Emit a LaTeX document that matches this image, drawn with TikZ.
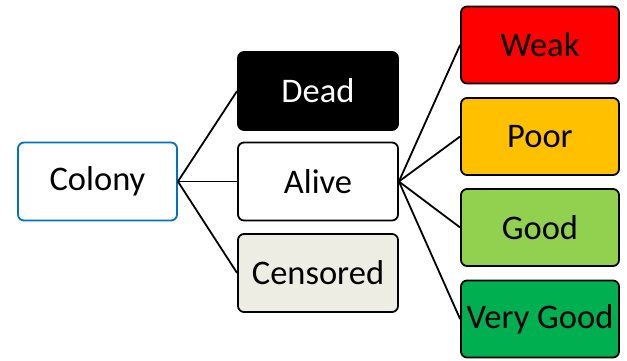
\documentclass[tikz,border=0pt]{standalone}
\usepackage{fontspec}
\setmainfont{Carlito}
\definecolor{colonyblue}{HTML}{0070C0}
\definecolor{censorgrey}{HTML}{EEEDE3}
\definecolor{weakred}{HTML}{FF0000}
\definecolor{poororange}{HTML}{FFC000}
\definecolor{goodgreen}{HTML}{92D050}
\definecolor{vgoodgreen}{HTML}{00B050}
\begin{document}
\begin{tikzpicture}[x = 1pt, y = 1pt,
  box/.style = {draw, line width = 1.8pt, rounded corners = 6pt,
    minimum width = 160pt, minimum height = 78pt, inner sep = 1pt,
    font = \fontsize{34.5}{38}\selectfont},
  rate/.style = {box, minimum width = 158pt, minimum height = 77pt},
  link/.style = {line width = 1.8pt}]
\useasboundingbox (0, 0) rectangle (627, -361);
\node[box, draw = colonyblue, minimum width = 159pt] (colony) at (97.5, -181.5) {Colony};
\node[box, fill = black, text = white] (dead) at (318, -91) {Dead};
\node[box] (alive) at (318, -181.5) {Alive};
\node[box, fill = censorgrey] (censored) at (318, -273) {Censored};
\node[rate, fill = weakred] (weak) at (540, -45) {Weak};
\node[rate, fill = poororange] (poor) at (540, -136.5) {Poor};
\node[rate, fill = goodgreen] (good) at (540, -227.5) {Good};
\node[rate, fill = vgoodgreen] (vgood) at (540, -319) {Very Good};
\draw[link] (colony.east) -- (dead.west);
\draw[link] (colony.east) -- (alive.west);
\draw[link] (colony.east) -- (censored.west);
\draw[link] (alive.east) -- (weak.west);
\draw[link] (alive.east) -- (poor.west);
\draw[link] (alive.east) -- (good.west);
\draw[link] (alive.east) -- (vgood.west);
\end{tikzpicture}
\end{document}
